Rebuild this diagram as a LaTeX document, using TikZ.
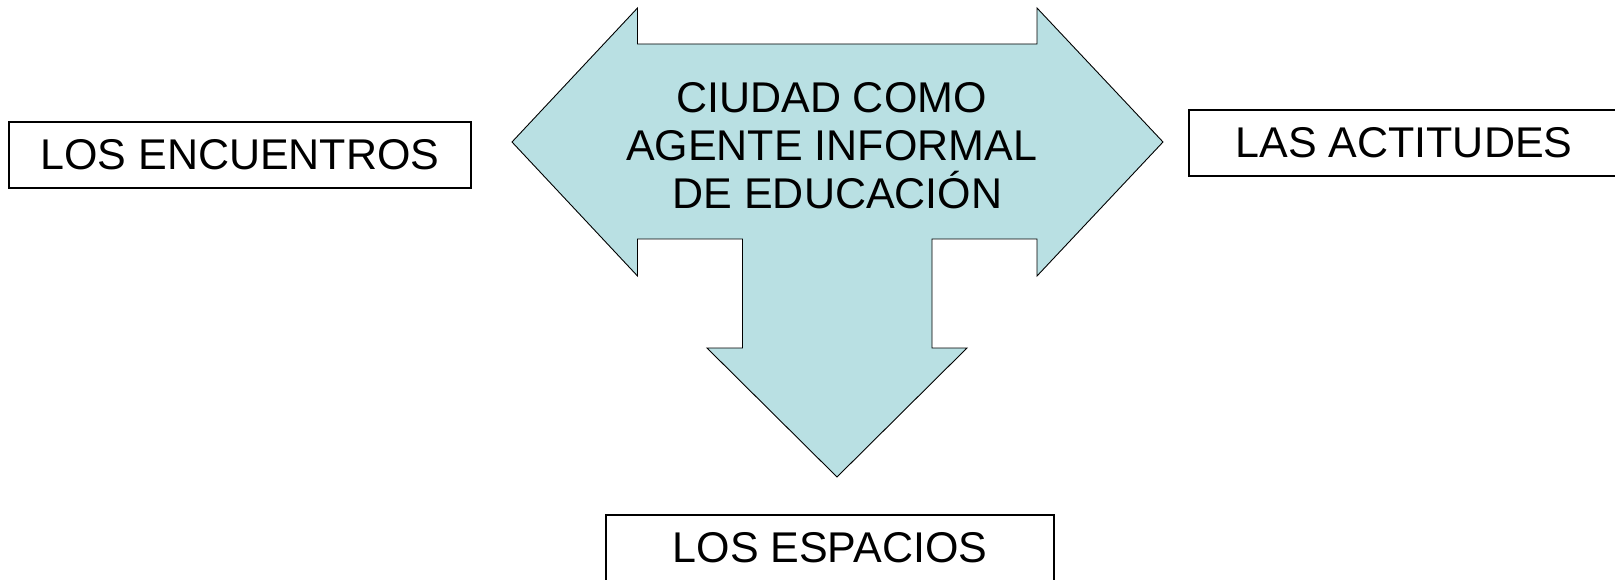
\documentclass[tikz,border=0pt]{standalone}
\usepackage{fontspec}
\setmainfont{Liberation Sans}
\definecolor{arrowfill}{RGB}{185,224,227}
\begin{document}
\begin{tikzpicture}[x=1pt,y=-1pt,
  labelbox/.style={draw=black,line width=1.3pt,fill=white,inner sep=0pt,
    minimum height=66pt,font=\fontsize{43}{48}\selectfont},
  bigarrow/.style={draw=black,line width=0.9pt,fill=arrowfill,line join=miter},
  centertext/.style={align=center,inner sep=0pt,font=\fontsize{43}{48}\selectfont}]
\useasboundingbox (0,0) rectangle (1615,580);
\clip (0,0) rectangle (1615,580);
\fill[white] (0,0) rectangle (1615,580);
% three-headed arrow
\path[bigarrow] (512,142) -- (637.5,8) -- (637.5,44) -- (1037,44) -- (1037,8)
  -- (1163,142) -- (1037,276) -- (1037,239) -- (932,239) -- (932,348)
  -- (967,348) -- (837,477) -- (707,348) -- (742.5,348) -- (742.5,239)
  -- (637.5,239) -- (637.5,276) -- cycle;
\node[centertext] (center) at (831.5,146) {CIUDAD COMO\\AGENTE INFORMAL\\\hspace*{12pt}DE EDUCACIÓN};
% boxes
\node[labelbox,minimum width=462pt] (enc) at (240,155) {LOS ENCUENTROS};
\node[labelbox,minimum width=430pt] (act) at (1404,143) {LAS ACTITUDES};
\node[labelbox,minimum width=448pt] (esp) at (830,548) {LOS ESPACIOS};
\end{tikzpicture}
\end{document}
